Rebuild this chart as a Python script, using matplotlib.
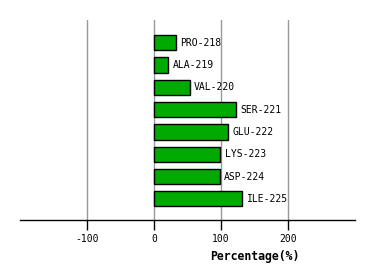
import matplotlib
matplotlib.use("Agg")
import matplotlib.pyplot as plt

labels = ["PRO-218", "ALA-219", "VAL-220", "SER-221", "GLU-222", "LYS-223", "ASP-224", "ILE-225"]
values = [33, 21, 53, 123, 111, 99, 98, 132]
xticks = [-100, 0, 100, 200]

fig = plt.figure(figsize=(3.74, 2.8), dpi=100)
ax = fig.add_axes([20/374, 60/280, 335/374, 200/280])
pos = list(range(len(labels)))
ax.barh(pos, values, height=0.68, color="#00aa00", edgecolor="black", linewidth=1, zorder=3)
for p, v, l in zip(pos, values, labels):
    ax.text(v + 6.5, p, l, va="center", ha="left", fontsize=7, family="DejaVu Sans Mono", zorder=4)
ax.set_xlim(-200, 300)
ax.set_ylim(7.95, -1.02)
ax.set_xticks(xticks)
ax.set_xticklabels([str(t) for t in xticks], fontsize=7, family="DejaVu Sans Mono")
ax.set_yticks([])
for t in xticks:
    ax.axvline(t, color="#999999", linewidth=1, zorder=1)
for s in ["top", "left", "right"]:
    ax.spines[s].set_visible(False)
ax.spines["bottom"].set_linewidth(1)
ax.tick_params(axis="x", length=7, width=1, pad=3)
ax.set_xlabel("Percentage(%)", fontsize=8.3, family="DejaVu Sans Mono", fontweight="bold")
ax.xaxis.set_label_coords((255 - 20) / 335, -0.15)
fig.savefig("out.png", dpi=100)
